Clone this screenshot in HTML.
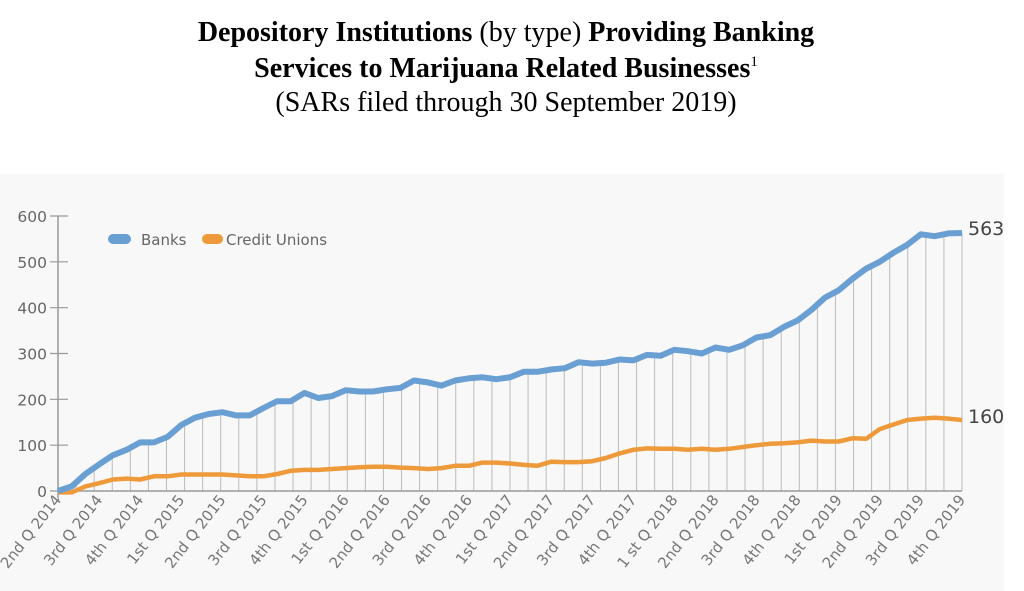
<!DOCTYPE html>
<html><head><meta charset="utf-8"><style>
body{margin:0;background:#fff;width:1024px;height:591px;overflow:hidden}
.t{position:absolute;left:0;width:1012px;text-align:center;font-family:"Liberation Serif",serif;color:#000;font-size:28px;line-height:32px}
.sp{font-size:15px;position:relative;top:-11px;line-height:0}
</style></head><body>
<div class="t" style="top:17px"><b>Depository Institutions</b> (by type) <b>Providing Banking</b></div>
<div class="t" style="top:53px"><b>Services to Marijuana Related Businesses</b><span class="sp">1</span></div>
<div class="t" style="top:87px">(SARs filed through 30 September 2019)</div>
<svg id="s" width="1024" height="591" style="position:absolute;left:0;top:0" xmlns="http://www.w3.org/2000/svg"></svg>
<script>
var B=[0,10,37,58,78,90,106,106,118,144,160,168,172,165,165,181,196,196,214,203,207,220,217,217,222,225,241,237,230,241,246,248,244,248,260,260,265,268,281,278,280,287,285,297,295,308,305,300,313,308,318,335,340,358,372,395,422,438,463,485,500,520,537,560,556,562,563];
var C=[-3,-3,10,17,25,27,25,32,32,36,36,36,36,34,32,32,37,44,46,46,48,50,52,53,53,51,50,48,50,55,55,62,62,60,57,55,64,63,63,65,72,82,90,93,92,92,90,92,90,92,96,100,103,104,106,110,108,108,115,114,135,145,155,158,160,158,155];
var x0=58,x1=962,y0=491,k=275/600,n=B.length,dx=(x1-x0)/(n-1);
function X(i){return x0+i*dx}function Y(v){return y0-v*k}
function bAt(x){var f=(x-x0)/dx,i=Math.min(Math.floor(f),n-2),t=f-i;return B[i]*(1-t)+B[i+1]*t}
var s='<rect x="0" y="174" width="1004" height="417" fill="#f8f8f8"/>';
for(var j=0;j<=50;j++){var gx=x0+j*(x1-x0)/50;s+='<line x1="'+gx+'" x2="'+gx+'" y1="'+y0+'" y2="'+Y(bAt(gx))+'" stroke="#bbb" stroke-width="1"/>';}
s+='<line x1="'+x0+'" x2="'+x0+'" y1="216" y2="498" stroke="#999" stroke-width="1.5"/>';
s+='<line x1="'+x0+'" x2="'+x1+'" y1="'+y0+'" y2="'+y0+'" stroke="#999" stroke-width="1.5"/>';
for(var v=0;v<=600;v+=100){var yy=Y(v);s+='<line x1="'+(x0-8)+'" x2="'+(x0+10)+'" y1="'+yy+'" y2="'+yy+'" stroke="#999" stroke-width="1.2"/><text x="47" y="'+(yy+6)+'" text-anchor="end" font-family=\'DejaVu Sans\' font-size="15.5" fill="#666">'+v+'</text>';}
var L=["2nd Q 2014","3rd Q 2014","4th Q 2014","1st Q 2015","2nd Q 2015","3rd Q 2015","4th Q 2015","1st Q 2016","2nd Q 2016","3rd Q 2016","4th Q 2016","1st Q 2017","2nd Q 2017","3rd Q 2017","4th Q 2017","1 st Q 2018","2nd Q 2018","3rd Q 2018","4th Q 2018","1st Q 2019","2nd Q 2019","3rd Q 2019","4th Q 2019"];
for(var i=0;i<L.length;i++){var lx=x0+i*(x1-x0)/22+4;s+='<text transform="translate('+lx+',500) rotate(-52)" text-anchor="end" font-family=\'DejaVu Sans\' font-size="15" fill="#777">'+L[i]+'</text>';}
function P(a){var p='';for(var i=0;i<n;i++)p+=(i?'L':'M')+X(i).toFixed(1)+' '+Y(a[i]).toFixed(1);return p}
s+='<path d="'+P(C)+'" fill="none" stroke="#ee9a3a" stroke-width="4.5" stroke-linejoin="round"/>';
s+='<path d="'+P(B)+'" fill="none" stroke="#6a9fd4" stroke-width="6" stroke-linejoin="round"/>';
s+='<line x1="113" x2="126" y1="239" y2="239" stroke="#6a9fd4" stroke-width="10" stroke-linecap="round"/><text x="141" y="245" font-family=\'DejaVu Sans\' font-size="15" fill="#666">Banks</text>';
s+='<line x1="207" x2="218" y1="239" y2="239" stroke="#ee9a3a" stroke-width="10" stroke-linecap="round"/><text x="226" y="245" font-family=\'DejaVu Sans\' font-size="15" fill="#666">Credit Unions</text>';
s+='<text x="968" y="235" font-family=\'DejaVu Sans\' font-size="19" fill="#444">563</text><text x="968" y="423" font-family=\'DejaVu Sans\' font-size="19" fill="#444">160</text>';
document.getElementById('s').innerHTML=s;
</script>
</body></html>
